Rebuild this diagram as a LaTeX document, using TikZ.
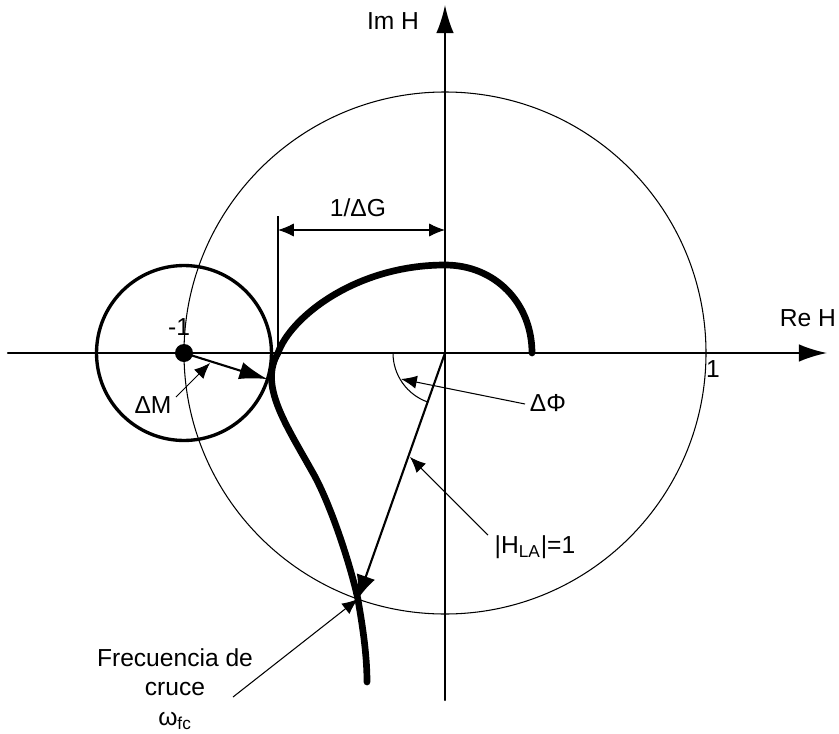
\documentclass[tikz,border=0pt]{standalone}
\usepackage{fontspec}
\setmainfont{Liberation Sans}
\usetikzlibrary{arrows.meta,calc}
\usepackage{tkz-euclide}

\begin{document}
\begin{tikzpicture}[x=2cm,y=2cm,font=\fontsize{14}{17}\selectfont,
  axisline/.style={line width=1.2pt,-{Latex[length=16pt,width=10pt]}},
  leader/.style={line width=0.6pt,-{Latex[length=9pt,width=7.5pt]}},
  thinline/.style={line width=0.6pt,color=black}]
\useasboundingbox (-4.45,-3.80) rectangle (3.94,3.53);
\tkzSetUpLine[line width=0.6pt,color=black]

\tkzDefPoints{0/0/O, 2.61/0/U, -2.61/0/M}
\tkzDefPoint(250.5:2.61){X}
\tkzDefShiftPoint[M](-17.4:0.875){T}
\tkzDefPoints{-4.37/0/Xa, 3.82/0/Xb, 0/-3.47/Ya, 0/3.48/Yb}

% axes
\tkzDrawSegments[axisline](Xa,Xb Ya,Yb)

% unit circle and margin circle
\tkzDrawCircle[thinline](O,U)
\tkzDrawCircle[line width=1.9pt,color=black](M,T)

% Nyquist curve
\draw[line width=3.8pt,line cap=round] (0.87,0)
  .. controls (0.87,0.50) and (0.50,0.88) .. (0,0.88)
  .. controls (-0.90,0.88) and (-1.55,0.35) .. (-1.67,0)
  .. controls (-1.86,-0.32) and (-1.60,-0.70) .. (-1.32,-1.20)
  .. controls (-1.15,-1.50) and (-0.95,-2.10) .. (X)
  .. controls (-0.83,-2.70) and (-0.78,-3.00) .. (-0.78,-3.29);

% -1 point and margin arrow
\fill (M) circle (0.09);
\tkzDrawSegments[line width=1.2pt,-{Latex[length=16pt,width=10pt]}](M,T)

% gain margin
\coordinate (Ga) at (-1.67,0);
\coordinate (Gb) at (-1.67,1.37);
\coordinate (G1) at (-1.67,1.23);
\coordinate (G2) at (0,1.23);
\draw[thinline] (Ga) -- (Gb);
\draw[thinline,{Latex[length=9pt,width=7.5pt]}-{Latex[length=9pt,width=7.5pt]}] (G1) -- (G2);

% phase margin
\coordinate (Pa) at (-0.52,0);
\draw[thinline] (Pa) arc[start angle=180,end angle=250.5,radius=0.52];
\tkzDrawSegments[line width=1.2pt,-{Latex[length=13.5pt,width=11pt]}](O,X)

% leaders
\coordinate (dMa) at (-2.69,-0.44);
\coordinate (dMb) at (-2.35,-0.10);
\coordinate (dPa) at (0.80,-0.51);
\coordinate (dPb) at (-0.44,-0.26);
\coordinate (dHa) at (0.43,-1.82);
\coordinate (dHb) at (-0.35,-1.04);
\coordinate (dFa) at (-2.12,-3.44);
\draw[leader] (dMa) -- (dMb);
\draw[leader] (dPa) -- (dPb);
\draw[leader] (dHa) -- (dHb);
\draw[leader] (dFa) -- (X);

% labels
\node (lblIm) at (-0.52,3.32) {Im H};
\node (lblRe) at (3.63,0.35) {Re H};
\node (lblOne) at (2.68,-0.16) {1};
\node (lblMinus) at (-2.66,0.26) {-1};
\node (lblDM) at (-2.92,-0.52) {ΔM};
\node (lblDG) at (-0.87,1.45) {1/ΔG};
\node (lblDP) at (1.03,-0.50) {ΔΦ};
\node (lblH) at (0.90,-1.94) {|H\textsubscript{LA}|=1};
\node[align=center] (lblF) at (-2.70,-3.36) {Frecuencia de\\cruce\\ω\textsubscript{fc}};

\end{tikzpicture}
\end{document}
